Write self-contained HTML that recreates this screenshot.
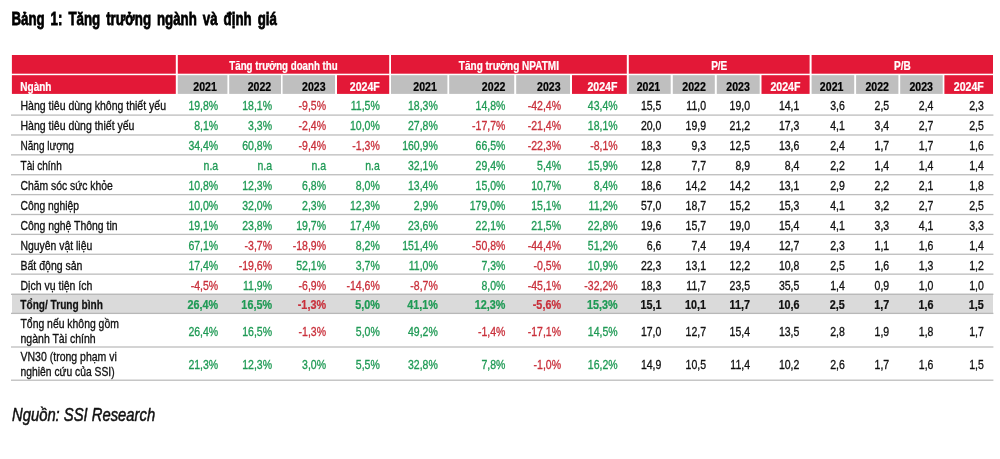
<!DOCTYPE html>
<html lang="vi"><head><meta charset="utf-8"><title>Bảng 1</title>
<style>
html,body{margin:0;padding:0;background:#fff;}
body{width:1000px;height:459px;overflow:hidden;}
svg{display:block;font-family:"Liberation Sans", Arial, Helvetica, sans-serif;will-change:transform;filter:blur(0.4px);}
text{white-space:pre;}
</style></head><body>
<svg width="1000" height="459" viewBox="0 0 1000 459">
<rect width="1000" height="459" fill="#fff"/>
<text transform="translate(11.40,25.30) scale(0.7,1)" text-anchor="start" fill="#000" stroke="#000" stroke-width="0.8" font-size="19" font-weight="bold" font-style="normal" word-spacing="3.3">Bảng 1: Tăng trưởng ngành và định giá</text>
<rect x="11.90" y="55.00" width="163.90" height="18.70" fill="#e31837"/>
<rect x="11.90" y="75.20" width="163.90" height="18.70" fill="#e31837"/>
<rect x="177.80" y="55.00" width="211.40" height="18.70" fill="#e31837"/>
<text transform="translate(283.50,70.30) scale(0.747,1)" text-anchor="middle" fill="#fff" stroke="#fff" stroke-width="0.25" font-size="13" font-weight="bold" font-style="normal">Tăng trưởng doanh thu</text>
<rect x="391.00" y="55.00" width="235.80" height="18.70" fill="#e31837"/>
<text transform="translate(508.90,70.30) scale(0.77,1)" text-anchor="middle" fill="#fff" stroke="#fff" stroke-width="0.25" font-size="13" font-weight="bold" font-style="normal">Tăng trưởng NPATMI</text>
<rect x="628.80" y="55.00" width="180.80" height="18.70" fill="#e31837"/>
<text transform="translate(719.20,70.30) scale(0.77,1)" text-anchor="middle" fill="#fff" stroke="#fff" stroke-width="0.25" font-size="13" font-weight="bold" font-style="normal">P/E</text>
<rect x="811.60" y="55.00" width="181.40" height="18.70" fill="#e31837"/>
<text transform="translate(902.30,70.30) scale(0.77,1)" text-anchor="middle" fill="#fff" stroke="#fff" stroke-width="0.25" font-size="13" font-weight="bold" font-style="normal">P/B</text>
<text transform="translate(20.30,90.80) scale(0.77,1)" text-anchor="start" fill="#fff" stroke="#fff" stroke-width="0.25" font-size="13" font-weight="bold" font-style="normal">Ngành</text>
<rect x="177.80" y="75.20" width="49.60" height="18.70" fill="#bfbfbf"/>
<text transform="translate(216.80,90.80) scale(0.79,1)" text-anchor="end" fill="#000" stroke="#000" stroke-width="0.25" font-size="13.4" font-weight="bold" font-style="normal">2021</text>
<rect x="229.20" y="75.20" width="51.80" height="18.70" fill="#bfbfbf"/>
<text transform="translate(271.20,90.80) scale(0.79,1)" text-anchor="end" fill="#000" stroke="#000" stroke-width="0.25" font-size="13.4" font-weight="bold" font-style="normal">2022</text>
<rect x="282.60" y="75.20" width="52.40" height="18.70" fill="#bfbfbf"/>
<text transform="translate(325.60,90.80) scale(0.79,1)" text-anchor="end" fill="#000" stroke="#000" stroke-width="0.25" font-size="13.4" font-weight="bold" font-style="normal">2023</text>
<rect x="337.00" y="75.20" width="52.20" height="18.70" fill="#e31837"/>
<text transform="translate(379.80,90.80) scale(0.79,1)" text-anchor="end" fill="#fff" stroke="#fff" stroke-width="0.25" font-size="13.4" font-weight="bold" font-style="normal">2024F</text>
<rect x="391.00" y="75.20" width="56.40" height="18.70" fill="#bfbfbf"/>
<text transform="translate(436.80,90.80) scale(0.79,1)" text-anchor="end" fill="#000" stroke="#000" stroke-width="0.25" font-size="13.4" font-weight="bold" font-style="normal">2021</text>
<rect x="449.20" y="75.20" width="65.00" height="18.70" fill="#bfbfbf"/>
<text transform="translate(505.40,90.80) scale(0.79,1)" text-anchor="end" fill="#000" stroke="#000" stroke-width="0.25" font-size="13.4" font-weight="bold" font-style="normal">2022</text>
<rect x="516.20" y="75.20" width="53.80" height="18.70" fill="#bfbfbf"/>
<text transform="translate(560.60,90.80) scale(0.79,1)" text-anchor="end" fill="#000" stroke="#000" stroke-width="0.25" font-size="13.4" font-weight="bold" font-style="normal">2023</text>
<rect x="572.00" y="75.20" width="54.80" height="18.70" fill="#e31837"/>
<text transform="translate(617.40,90.80) scale(0.79,1)" text-anchor="end" fill="#fff" stroke="#fff" stroke-width="0.25" font-size="13.4" font-weight="bold" font-style="normal">2024F</text>
<rect x="628.80" y="75.20" width="41.90" height="18.70" fill="#bfbfbf"/>
<text transform="translate(660.20,90.80) scale(0.79,1)" text-anchor="end" fill="#000" stroke="#000" stroke-width="0.25" font-size="13.4" font-weight="bold" font-style="normal">2021</text>
<rect x="672.80" y="75.20" width="42.00" height="18.70" fill="#bfbfbf"/>
<text transform="translate(705.80,90.80) scale(0.79,1)" text-anchor="end" fill="#000" stroke="#000" stroke-width="0.25" font-size="13.4" font-weight="bold" font-style="normal">2022</text>
<rect x="716.80" y="75.20" width="42.90" height="18.70" fill="#bfbfbf"/>
<text transform="translate(749.80,90.80) scale(0.79,1)" text-anchor="end" fill="#000" stroke="#000" stroke-width="0.25" font-size="13.4" font-weight="bold" font-style="normal">2023</text>
<rect x="761.50" y="75.20" width="48.10" height="18.70" fill="#e31837"/>
<text transform="translate(800.40,90.80) scale(0.79,1)" text-anchor="end" fill="#fff" stroke="#fff" stroke-width="0.25" font-size="13.4" font-weight="bold" font-style="normal">2024F</text>
<rect x="811.60" y="75.20" width="42.60" height="18.70" fill="#bfbfbf"/>
<text transform="translate(843.40,90.80) scale(0.79,1)" text-anchor="end" fill="#000" stroke="#000" stroke-width="0.25" font-size="13.4" font-weight="bold" font-style="normal">2021</text>
<rect x="856.10" y="75.20" width="42.30" height="18.70" fill="#bfbfbf"/>
<text transform="translate(889.00,90.80) scale(0.79,1)" text-anchor="end" fill="#000" stroke="#000" stroke-width="0.25" font-size="13.4" font-weight="bold" font-style="normal">2022</text>
<rect x="900.20" y="75.20" width="42.50" height="18.70" fill="#bfbfbf"/>
<text transform="translate(933.00,90.80) scale(0.79,1)" text-anchor="end" fill="#000" stroke="#000" stroke-width="0.25" font-size="13.4" font-weight="bold" font-style="normal">2023</text>
<rect x="944.40" y="75.20" width="48.60" height="18.70" fill="#e31837"/>
<text transform="translate(983.80,90.80) scale(0.79,1)" text-anchor="end" fill="#fff" stroke="#fff" stroke-width="0.25" font-size="13.4" font-weight="bold" font-style="normal">2024F</text>
<text transform="translate(20.50,110.00) scale(0.835,1)" text-anchor="start" fill="#111" stroke="#111" stroke-width="0.32" font-size="12.6" font-weight="normal" font-style="normal">Hàng tiêu dùng không thiết yếu</text>
<text transform="translate(218.20,110.00) scale(0.835,1)" text-anchor="end" fill="#1f9a55" stroke="#1f9a55" stroke-width="0.32" font-size="12.6" font-weight="normal" font-style="normal">19,8%</text>
<text transform="translate(272.00,110.00) scale(0.835,1)" text-anchor="end" fill="#1f9a55" stroke="#1f9a55" stroke-width="0.32" font-size="12.6" font-weight="normal" font-style="normal">18,1%</text>
<text transform="translate(326.00,110.00) scale(0.835,1)" text-anchor="end" fill="#c9303b" stroke="#c9303b" stroke-width="0.32" font-size="12.6" font-weight="normal" font-style="normal">-9,5%</text>
<text transform="translate(379.80,110.00) scale(0.835,1)" text-anchor="end" fill="#1f9a55" stroke="#1f9a55" stroke-width="0.32" font-size="12.6" font-weight="normal" font-style="normal">11,5%</text>
<text transform="translate(437.80,110.00) scale(0.835,1)" text-anchor="end" fill="#1f9a55" stroke="#1f9a55" stroke-width="0.32" font-size="12.6" font-weight="normal" font-style="normal">18,3%</text>
<text transform="translate(505.40,110.00) scale(0.835,1)" text-anchor="end" fill="#1f9a55" stroke="#1f9a55" stroke-width="0.32" font-size="12.6" font-weight="normal" font-style="normal">14,8%</text>
<text transform="translate(561.00,110.00) scale(0.835,1)" text-anchor="end" fill="#c9303b" stroke="#c9303b" stroke-width="0.32" font-size="12.6" font-weight="normal" font-style="normal">-42,4%</text>
<text transform="translate(617.60,110.00) scale(0.835,1)" text-anchor="end" fill="#1f9a55" stroke="#1f9a55" stroke-width="0.32" font-size="12.6" font-weight="normal" font-style="normal">43,4%</text>
<text transform="translate(661.40,110.00) scale(0.835,1)" text-anchor="end" fill="#111" stroke="#111" stroke-width="0.32" font-size="12.6" font-weight="normal" font-style="normal">15,5</text>
<text transform="translate(706.00,110.00) scale(0.835,1)" text-anchor="end" fill="#111" stroke="#111" stroke-width="0.32" font-size="12.6" font-weight="normal" font-style="normal">11,0</text>
<text transform="translate(750.00,110.00) scale(0.835,1)" text-anchor="end" fill="#111" stroke="#111" stroke-width="0.32" font-size="12.6" font-weight="normal" font-style="normal">19,0</text>
<text transform="translate(799.40,110.00) scale(0.835,1)" text-anchor="end" fill="#111" stroke="#111" stroke-width="0.32" font-size="12.6" font-weight="normal" font-style="normal">14,1</text>
<text transform="translate(844.80,110.00) scale(0.835,1)" text-anchor="end" fill="#111" stroke="#111" stroke-width="0.32" font-size="12.6" font-weight="normal" font-style="normal">3,6</text>
<text transform="translate(889.20,110.00) scale(0.835,1)" text-anchor="end" fill="#111" stroke="#111" stroke-width="0.32" font-size="12.6" font-weight="normal" font-style="normal">2,5</text>
<text transform="translate(933.40,110.00) scale(0.835,1)" text-anchor="end" fill="#111" stroke="#111" stroke-width="0.32" font-size="12.6" font-weight="normal" font-style="normal">2,4</text>
<text transform="translate(983.80,110.00) scale(0.835,1)" text-anchor="end" fill="#111" stroke="#111" stroke-width="0.32" font-size="12.6" font-weight="normal" font-style="normal">2,3</text>
<rect x="11" y="114.45" width="982.4" height="1.3" fill="#bdbdbd"/>
<text transform="translate(20.50,129.95) scale(0.835,1)" text-anchor="start" fill="#111" stroke="#111" stroke-width="0.32" font-size="12.6" font-weight="normal" font-style="normal">Hàng tiêu dùng thiết yếu</text>
<text transform="translate(218.20,129.95) scale(0.835,1)" text-anchor="end" fill="#1f9a55" stroke="#1f9a55" stroke-width="0.32" font-size="12.6" font-weight="normal" font-style="normal">8,1%</text>
<text transform="translate(272.00,129.95) scale(0.835,1)" text-anchor="end" fill="#1f9a55" stroke="#1f9a55" stroke-width="0.32" font-size="12.6" font-weight="normal" font-style="normal">3,3%</text>
<text transform="translate(326.00,129.95) scale(0.835,1)" text-anchor="end" fill="#c9303b" stroke="#c9303b" stroke-width="0.32" font-size="12.6" font-weight="normal" font-style="normal">-2,4%</text>
<text transform="translate(379.80,129.95) scale(0.835,1)" text-anchor="end" fill="#1f9a55" stroke="#1f9a55" stroke-width="0.32" font-size="12.6" font-weight="normal" font-style="normal">10,0%</text>
<text transform="translate(437.80,129.95) scale(0.835,1)" text-anchor="end" fill="#1f9a55" stroke="#1f9a55" stroke-width="0.32" font-size="12.6" font-weight="normal" font-style="normal">27,8%</text>
<text transform="translate(505.40,129.95) scale(0.835,1)" text-anchor="end" fill="#c9303b" stroke="#c9303b" stroke-width="0.32" font-size="12.6" font-weight="normal" font-style="normal">-17,7%</text>
<text transform="translate(561.00,129.95) scale(0.835,1)" text-anchor="end" fill="#c9303b" stroke="#c9303b" stroke-width="0.32" font-size="12.6" font-weight="normal" font-style="normal">-21,4%</text>
<text transform="translate(617.60,129.95) scale(0.835,1)" text-anchor="end" fill="#1f9a55" stroke="#1f9a55" stroke-width="0.32" font-size="12.6" font-weight="normal" font-style="normal">18,1%</text>
<text transform="translate(661.40,129.95) scale(0.835,1)" text-anchor="end" fill="#111" stroke="#111" stroke-width="0.32" font-size="12.6" font-weight="normal" font-style="normal">20,0</text>
<text transform="translate(706.00,129.95) scale(0.835,1)" text-anchor="end" fill="#111" stroke="#111" stroke-width="0.32" font-size="12.6" font-weight="normal" font-style="normal">19,9</text>
<text transform="translate(750.00,129.95) scale(0.835,1)" text-anchor="end" fill="#111" stroke="#111" stroke-width="0.32" font-size="12.6" font-weight="normal" font-style="normal">21,2</text>
<text transform="translate(799.40,129.95) scale(0.835,1)" text-anchor="end" fill="#111" stroke="#111" stroke-width="0.32" font-size="12.6" font-weight="normal" font-style="normal">17,3</text>
<text transform="translate(844.80,129.95) scale(0.835,1)" text-anchor="end" fill="#111" stroke="#111" stroke-width="0.32" font-size="12.6" font-weight="normal" font-style="normal">4,1</text>
<text transform="translate(889.20,129.95) scale(0.835,1)" text-anchor="end" fill="#111" stroke="#111" stroke-width="0.32" font-size="12.6" font-weight="normal" font-style="normal">3,4</text>
<text transform="translate(933.40,129.95) scale(0.835,1)" text-anchor="end" fill="#111" stroke="#111" stroke-width="0.32" font-size="12.6" font-weight="normal" font-style="normal">2,7</text>
<text transform="translate(983.80,129.95) scale(0.835,1)" text-anchor="end" fill="#111" stroke="#111" stroke-width="0.32" font-size="12.6" font-weight="normal" font-style="normal">2,5</text>
<rect x="11" y="134.33" width="982.4" height="1.3" fill="#bdbdbd"/>
<text transform="translate(20.50,149.90) scale(0.7974,1)" text-anchor="start" fill="#111" stroke="#111" stroke-width="0.32" font-size="12.6" font-weight="normal" font-style="normal">Năng lượng</text>
<text transform="translate(218.20,149.90) scale(0.835,1)" text-anchor="end" fill="#1f9a55" stroke="#1f9a55" stroke-width="0.32" font-size="12.6" font-weight="normal" font-style="normal">34,4%</text>
<text transform="translate(272.00,149.90) scale(0.835,1)" text-anchor="end" fill="#1f9a55" stroke="#1f9a55" stroke-width="0.32" font-size="12.6" font-weight="normal" font-style="normal">60,8%</text>
<text transform="translate(326.00,149.90) scale(0.835,1)" text-anchor="end" fill="#c9303b" stroke="#c9303b" stroke-width="0.32" font-size="12.6" font-weight="normal" font-style="normal">-9,4%</text>
<text transform="translate(379.80,149.90) scale(0.835,1)" text-anchor="end" fill="#c9303b" stroke="#c9303b" stroke-width="0.32" font-size="12.6" font-weight="normal" font-style="normal">-1,3%</text>
<text transform="translate(437.80,149.90) scale(0.835,1)" text-anchor="end" fill="#1f9a55" stroke="#1f9a55" stroke-width="0.32" font-size="12.6" font-weight="normal" font-style="normal">160,9%</text>
<text transform="translate(505.40,149.90) scale(0.835,1)" text-anchor="end" fill="#1f9a55" stroke="#1f9a55" stroke-width="0.32" font-size="12.6" font-weight="normal" font-style="normal">66,5%</text>
<text transform="translate(561.00,149.90) scale(0.835,1)" text-anchor="end" fill="#c9303b" stroke="#c9303b" stroke-width="0.32" font-size="12.6" font-weight="normal" font-style="normal">-22,3%</text>
<text transform="translate(617.60,149.90) scale(0.835,1)" text-anchor="end" fill="#c9303b" stroke="#c9303b" stroke-width="0.32" font-size="12.6" font-weight="normal" font-style="normal">-8,1%</text>
<text transform="translate(661.40,149.90) scale(0.835,1)" text-anchor="end" fill="#111" stroke="#111" stroke-width="0.32" font-size="12.6" font-weight="normal" font-style="normal">18,3</text>
<text transform="translate(706.00,149.90) scale(0.835,1)" text-anchor="end" fill="#111" stroke="#111" stroke-width="0.32" font-size="12.6" font-weight="normal" font-style="normal">9,3</text>
<text transform="translate(750.00,149.90) scale(0.835,1)" text-anchor="end" fill="#111" stroke="#111" stroke-width="0.32" font-size="12.6" font-weight="normal" font-style="normal">12,5</text>
<text transform="translate(799.40,149.90) scale(0.835,1)" text-anchor="end" fill="#111" stroke="#111" stroke-width="0.32" font-size="12.6" font-weight="normal" font-style="normal">13,6</text>
<text transform="translate(844.80,149.90) scale(0.835,1)" text-anchor="end" fill="#111" stroke="#111" stroke-width="0.32" font-size="12.6" font-weight="normal" font-style="normal">2,4</text>
<text transform="translate(889.20,149.90) scale(0.835,1)" text-anchor="end" fill="#111" stroke="#111" stroke-width="0.32" font-size="12.6" font-weight="normal" font-style="normal">1,7</text>
<text transform="translate(933.40,149.90) scale(0.835,1)" text-anchor="end" fill="#111" stroke="#111" stroke-width="0.32" font-size="12.6" font-weight="normal" font-style="normal">1,7</text>
<text transform="translate(983.80,149.90) scale(0.835,1)" text-anchor="end" fill="#111" stroke="#111" stroke-width="0.32" font-size="12.6" font-weight="normal" font-style="normal">1,6</text>
<rect x="11" y="154.21" width="982.4" height="1.3" fill="#bdbdbd"/>
<text transform="translate(20.50,169.85) scale(0.7974,1)" text-anchor="start" fill="#111" stroke="#111" stroke-width="0.32" font-size="12.6" font-weight="normal" font-style="normal">Tài chính</text>
<text transform="translate(218.20,169.85) scale(0.835,1)" text-anchor="end" fill="#1f9a55" stroke="#1f9a55" stroke-width="0.32" font-size="12.6" font-weight="normal" font-style="normal">n.a</text>
<text transform="translate(272.00,169.85) scale(0.835,1)" text-anchor="end" fill="#1f9a55" stroke="#1f9a55" stroke-width="0.32" font-size="12.6" font-weight="normal" font-style="normal">n.a</text>
<text transform="translate(326.00,169.85) scale(0.835,1)" text-anchor="end" fill="#1f9a55" stroke="#1f9a55" stroke-width="0.32" font-size="12.6" font-weight="normal" font-style="normal">n.a</text>
<text transform="translate(379.80,169.85) scale(0.835,1)" text-anchor="end" fill="#1f9a55" stroke="#1f9a55" stroke-width="0.32" font-size="12.6" font-weight="normal" font-style="normal">n.a</text>
<text transform="translate(437.80,169.85) scale(0.835,1)" text-anchor="end" fill="#1f9a55" stroke="#1f9a55" stroke-width="0.32" font-size="12.6" font-weight="normal" font-style="normal">32,1%</text>
<text transform="translate(505.40,169.85) scale(0.835,1)" text-anchor="end" fill="#1f9a55" stroke="#1f9a55" stroke-width="0.32" font-size="12.6" font-weight="normal" font-style="normal">29,4%</text>
<text transform="translate(561.00,169.85) scale(0.835,1)" text-anchor="end" fill="#1f9a55" stroke="#1f9a55" stroke-width="0.32" font-size="12.6" font-weight="normal" font-style="normal">5,4%</text>
<text transform="translate(617.60,169.85) scale(0.835,1)" text-anchor="end" fill="#1f9a55" stroke="#1f9a55" stroke-width="0.32" font-size="12.6" font-weight="normal" font-style="normal">15,9%</text>
<text transform="translate(661.40,169.85) scale(0.835,1)" text-anchor="end" fill="#111" stroke="#111" stroke-width="0.32" font-size="12.6" font-weight="normal" font-style="normal">12,8</text>
<text transform="translate(706.00,169.85) scale(0.835,1)" text-anchor="end" fill="#111" stroke="#111" stroke-width="0.32" font-size="12.6" font-weight="normal" font-style="normal">7,7</text>
<text transform="translate(750.00,169.85) scale(0.835,1)" text-anchor="end" fill="#111" stroke="#111" stroke-width="0.32" font-size="12.6" font-weight="normal" font-style="normal">8,9</text>
<text transform="translate(799.40,169.85) scale(0.835,1)" text-anchor="end" fill="#111" stroke="#111" stroke-width="0.32" font-size="12.6" font-weight="normal" font-style="normal">8,4</text>
<text transform="translate(844.80,169.85) scale(0.835,1)" text-anchor="end" fill="#111" stroke="#111" stroke-width="0.32" font-size="12.6" font-weight="normal" font-style="normal">2,2</text>
<text transform="translate(889.20,169.85) scale(0.835,1)" text-anchor="end" fill="#111" stroke="#111" stroke-width="0.32" font-size="12.6" font-weight="normal" font-style="normal">1,4</text>
<text transform="translate(933.40,169.85) scale(0.835,1)" text-anchor="end" fill="#111" stroke="#111" stroke-width="0.32" font-size="12.6" font-weight="normal" font-style="normal">1,4</text>
<text transform="translate(983.80,169.85) scale(0.835,1)" text-anchor="end" fill="#111" stroke="#111" stroke-width="0.32" font-size="12.6" font-weight="normal" font-style="normal">1,4</text>
<rect x="11" y="174.09" width="982.4" height="1.3" fill="#bdbdbd"/>
<text transform="translate(20.50,189.80) scale(0.8241,1)" text-anchor="start" fill="#111" stroke="#111" stroke-width="0.32" font-size="12.6" font-weight="normal" font-style="normal">Chăm sóc sức khỏe</text>
<text transform="translate(218.20,189.80) scale(0.835,1)" text-anchor="end" fill="#1f9a55" stroke="#1f9a55" stroke-width="0.32" font-size="12.6" font-weight="normal" font-style="normal">10,8%</text>
<text transform="translate(272.00,189.80) scale(0.835,1)" text-anchor="end" fill="#1f9a55" stroke="#1f9a55" stroke-width="0.32" font-size="12.6" font-weight="normal" font-style="normal">12,3%</text>
<text transform="translate(326.00,189.80) scale(0.835,1)" text-anchor="end" fill="#1f9a55" stroke="#1f9a55" stroke-width="0.32" font-size="12.6" font-weight="normal" font-style="normal">6,8%</text>
<text transform="translate(379.80,189.80) scale(0.835,1)" text-anchor="end" fill="#1f9a55" stroke="#1f9a55" stroke-width="0.32" font-size="12.6" font-weight="normal" font-style="normal">8,0%</text>
<text transform="translate(437.80,189.80) scale(0.835,1)" text-anchor="end" fill="#1f9a55" stroke="#1f9a55" stroke-width="0.32" font-size="12.6" font-weight="normal" font-style="normal">13,4%</text>
<text transform="translate(505.40,189.80) scale(0.835,1)" text-anchor="end" fill="#1f9a55" stroke="#1f9a55" stroke-width="0.32" font-size="12.6" font-weight="normal" font-style="normal">15,0%</text>
<text transform="translate(561.00,189.80) scale(0.835,1)" text-anchor="end" fill="#1f9a55" stroke="#1f9a55" stroke-width="0.32" font-size="12.6" font-weight="normal" font-style="normal">10,7%</text>
<text transform="translate(617.60,189.80) scale(0.835,1)" text-anchor="end" fill="#1f9a55" stroke="#1f9a55" stroke-width="0.32" font-size="12.6" font-weight="normal" font-style="normal">8,4%</text>
<text transform="translate(661.40,189.80) scale(0.835,1)" text-anchor="end" fill="#111" stroke="#111" stroke-width="0.32" font-size="12.6" font-weight="normal" font-style="normal">18,6</text>
<text transform="translate(706.00,189.80) scale(0.835,1)" text-anchor="end" fill="#111" stroke="#111" stroke-width="0.32" font-size="12.6" font-weight="normal" font-style="normal">14,2</text>
<text transform="translate(750.00,189.80) scale(0.835,1)" text-anchor="end" fill="#111" stroke="#111" stroke-width="0.32" font-size="12.6" font-weight="normal" font-style="normal">14,2</text>
<text transform="translate(799.40,189.80) scale(0.835,1)" text-anchor="end" fill="#111" stroke="#111" stroke-width="0.32" font-size="12.6" font-weight="normal" font-style="normal">13,1</text>
<text transform="translate(844.80,189.80) scale(0.835,1)" text-anchor="end" fill="#111" stroke="#111" stroke-width="0.32" font-size="12.6" font-weight="normal" font-style="normal">2,9</text>
<text transform="translate(889.20,189.80) scale(0.835,1)" text-anchor="end" fill="#111" stroke="#111" stroke-width="0.32" font-size="12.6" font-weight="normal" font-style="normal">2,2</text>
<text transform="translate(933.40,189.80) scale(0.835,1)" text-anchor="end" fill="#111" stroke="#111" stroke-width="0.32" font-size="12.6" font-weight="normal" font-style="normal">2,1</text>
<text transform="translate(983.80,189.80) scale(0.835,1)" text-anchor="end" fill="#111" stroke="#111" stroke-width="0.32" font-size="12.6" font-weight="normal" font-style="normal">1,8</text>
<rect x="11" y="193.97" width="982.4" height="1.3" fill="#bdbdbd"/>
<text transform="translate(20.50,209.75) scale(0.8183,1)" text-anchor="start" fill="#111" stroke="#111" stroke-width="0.32" font-size="12.6" font-weight="normal" font-style="normal">Công nghiệp</text>
<text transform="translate(218.20,209.75) scale(0.835,1)" text-anchor="end" fill="#1f9a55" stroke="#1f9a55" stroke-width="0.32" font-size="12.6" font-weight="normal" font-style="normal">10,0%</text>
<text transform="translate(272.00,209.75) scale(0.835,1)" text-anchor="end" fill="#1f9a55" stroke="#1f9a55" stroke-width="0.32" font-size="12.6" font-weight="normal" font-style="normal">32,0%</text>
<text transform="translate(326.00,209.75) scale(0.835,1)" text-anchor="end" fill="#1f9a55" stroke="#1f9a55" stroke-width="0.32" font-size="12.6" font-weight="normal" font-style="normal">2,3%</text>
<text transform="translate(379.80,209.75) scale(0.835,1)" text-anchor="end" fill="#1f9a55" stroke="#1f9a55" stroke-width="0.32" font-size="12.6" font-weight="normal" font-style="normal">12,3%</text>
<text transform="translate(437.80,209.75) scale(0.835,1)" text-anchor="end" fill="#1f9a55" stroke="#1f9a55" stroke-width="0.32" font-size="12.6" font-weight="normal" font-style="normal">2,9%</text>
<text transform="translate(505.40,209.75) scale(0.835,1)" text-anchor="end" fill="#1f9a55" stroke="#1f9a55" stroke-width="0.32" font-size="12.6" font-weight="normal" font-style="normal">179,0%</text>
<text transform="translate(561.00,209.75) scale(0.835,1)" text-anchor="end" fill="#1f9a55" stroke="#1f9a55" stroke-width="0.32" font-size="12.6" font-weight="normal" font-style="normal">15,1%</text>
<text transform="translate(617.60,209.75) scale(0.835,1)" text-anchor="end" fill="#1f9a55" stroke="#1f9a55" stroke-width="0.32" font-size="12.6" font-weight="normal" font-style="normal">11,2%</text>
<text transform="translate(661.40,209.75) scale(0.835,1)" text-anchor="end" fill="#111" stroke="#111" stroke-width="0.32" font-size="12.6" font-weight="normal" font-style="normal">57,0</text>
<text transform="translate(706.00,209.75) scale(0.835,1)" text-anchor="end" fill="#111" stroke="#111" stroke-width="0.32" font-size="12.6" font-weight="normal" font-style="normal">18,7</text>
<text transform="translate(750.00,209.75) scale(0.835,1)" text-anchor="end" fill="#111" stroke="#111" stroke-width="0.32" font-size="12.6" font-weight="normal" font-style="normal">15,2</text>
<text transform="translate(799.40,209.75) scale(0.835,1)" text-anchor="end" fill="#111" stroke="#111" stroke-width="0.32" font-size="12.6" font-weight="normal" font-style="normal">15,3</text>
<text transform="translate(844.80,209.75) scale(0.835,1)" text-anchor="end" fill="#111" stroke="#111" stroke-width="0.32" font-size="12.6" font-weight="normal" font-style="normal">4,1</text>
<text transform="translate(889.20,209.75) scale(0.835,1)" text-anchor="end" fill="#111" stroke="#111" stroke-width="0.32" font-size="12.6" font-weight="normal" font-style="normal">3,2</text>
<text transform="translate(933.40,209.75) scale(0.835,1)" text-anchor="end" fill="#111" stroke="#111" stroke-width="0.32" font-size="12.6" font-weight="normal" font-style="normal">2,7</text>
<text transform="translate(983.80,209.75) scale(0.835,1)" text-anchor="end" fill="#111" stroke="#111" stroke-width="0.32" font-size="12.6" font-weight="normal" font-style="normal">2,5</text>
<rect x="11" y="213.85" width="982.4" height="1.3" fill="#bdbdbd"/>
<text transform="translate(20.50,229.70) scale(0.8266,1)" text-anchor="start" fill="#111" stroke="#111" stroke-width="0.32" font-size="12.6" font-weight="normal" font-style="normal">Công nghệ Thông tin</text>
<text transform="translate(218.20,229.70) scale(0.835,1)" text-anchor="end" fill="#1f9a55" stroke="#1f9a55" stroke-width="0.32" font-size="12.6" font-weight="normal" font-style="normal">19,1%</text>
<text transform="translate(272.00,229.70) scale(0.835,1)" text-anchor="end" fill="#1f9a55" stroke="#1f9a55" stroke-width="0.32" font-size="12.6" font-weight="normal" font-style="normal">23,8%</text>
<text transform="translate(326.00,229.70) scale(0.835,1)" text-anchor="end" fill="#1f9a55" stroke="#1f9a55" stroke-width="0.32" font-size="12.6" font-weight="normal" font-style="normal">19,7%</text>
<text transform="translate(379.80,229.70) scale(0.835,1)" text-anchor="end" fill="#1f9a55" stroke="#1f9a55" stroke-width="0.32" font-size="12.6" font-weight="normal" font-style="normal">17,4%</text>
<text transform="translate(437.80,229.70) scale(0.835,1)" text-anchor="end" fill="#1f9a55" stroke="#1f9a55" stroke-width="0.32" font-size="12.6" font-weight="normal" font-style="normal">23,6%</text>
<text transform="translate(505.40,229.70) scale(0.835,1)" text-anchor="end" fill="#1f9a55" stroke="#1f9a55" stroke-width="0.32" font-size="12.6" font-weight="normal" font-style="normal">22,1%</text>
<text transform="translate(561.00,229.70) scale(0.835,1)" text-anchor="end" fill="#1f9a55" stroke="#1f9a55" stroke-width="0.32" font-size="12.6" font-weight="normal" font-style="normal">21,5%</text>
<text transform="translate(617.60,229.70) scale(0.835,1)" text-anchor="end" fill="#1f9a55" stroke="#1f9a55" stroke-width="0.32" font-size="12.6" font-weight="normal" font-style="normal">22,8%</text>
<text transform="translate(661.40,229.70) scale(0.835,1)" text-anchor="end" fill="#111" stroke="#111" stroke-width="0.32" font-size="12.6" font-weight="normal" font-style="normal">19,6</text>
<text transform="translate(706.00,229.70) scale(0.835,1)" text-anchor="end" fill="#111" stroke="#111" stroke-width="0.32" font-size="12.6" font-weight="normal" font-style="normal">15,7</text>
<text transform="translate(750.00,229.70) scale(0.835,1)" text-anchor="end" fill="#111" stroke="#111" stroke-width="0.32" font-size="12.6" font-weight="normal" font-style="normal">19,0</text>
<text transform="translate(799.40,229.70) scale(0.835,1)" text-anchor="end" fill="#111" stroke="#111" stroke-width="0.32" font-size="12.6" font-weight="normal" font-style="normal">15,4</text>
<text transform="translate(844.80,229.70) scale(0.835,1)" text-anchor="end" fill="#111" stroke="#111" stroke-width="0.32" font-size="12.6" font-weight="normal" font-style="normal">4,1</text>
<text transform="translate(889.20,229.70) scale(0.835,1)" text-anchor="end" fill="#111" stroke="#111" stroke-width="0.32" font-size="12.6" font-weight="normal" font-style="normal">3,3</text>
<text transform="translate(933.40,229.70) scale(0.835,1)" text-anchor="end" fill="#111" stroke="#111" stroke-width="0.32" font-size="12.6" font-weight="normal" font-style="normal">4,1</text>
<text transform="translate(983.80,229.70) scale(0.835,1)" text-anchor="end" fill="#111" stroke="#111" stroke-width="0.32" font-size="12.6" font-weight="normal" font-style="normal">3,3</text>
<rect x="11" y="233.73" width="982.4" height="1.3" fill="#bdbdbd"/>
<text transform="translate(20.50,249.65) scale(0.8266,1)" text-anchor="start" fill="#111" stroke="#111" stroke-width="0.32" font-size="12.6" font-weight="normal" font-style="normal">Nguyên vật liệu</text>
<text transform="translate(218.20,249.65) scale(0.835,1)" text-anchor="end" fill="#1f9a55" stroke="#1f9a55" stroke-width="0.32" font-size="12.6" font-weight="normal" font-style="normal">67,1%</text>
<text transform="translate(272.00,249.65) scale(0.835,1)" text-anchor="end" fill="#c9303b" stroke="#c9303b" stroke-width="0.32" font-size="12.6" font-weight="normal" font-style="normal">-3,7%</text>
<text transform="translate(326.00,249.65) scale(0.835,1)" text-anchor="end" fill="#c9303b" stroke="#c9303b" stroke-width="0.32" font-size="12.6" font-weight="normal" font-style="normal">-18,9%</text>
<text transform="translate(379.80,249.65) scale(0.835,1)" text-anchor="end" fill="#1f9a55" stroke="#1f9a55" stroke-width="0.32" font-size="12.6" font-weight="normal" font-style="normal">8,2%</text>
<text transform="translate(437.80,249.65) scale(0.835,1)" text-anchor="end" fill="#1f9a55" stroke="#1f9a55" stroke-width="0.32" font-size="12.6" font-weight="normal" font-style="normal">151,4%</text>
<text transform="translate(505.40,249.65) scale(0.835,1)" text-anchor="end" fill="#c9303b" stroke="#c9303b" stroke-width="0.32" font-size="12.6" font-weight="normal" font-style="normal">-50,8%</text>
<text transform="translate(561.00,249.65) scale(0.835,1)" text-anchor="end" fill="#c9303b" stroke="#c9303b" stroke-width="0.32" font-size="12.6" font-weight="normal" font-style="normal">-44,4%</text>
<text transform="translate(617.60,249.65) scale(0.835,1)" text-anchor="end" fill="#1f9a55" stroke="#1f9a55" stroke-width="0.32" font-size="12.6" font-weight="normal" font-style="normal">51,2%</text>
<text transform="translate(661.40,249.65) scale(0.835,1)" text-anchor="end" fill="#111" stroke="#111" stroke-width="0.32" font-size="12.6" font-weight="normal" font-style="normal">6,6</text>
<text transform="translate(706.00,249.65) scale(0.835,1)" text-anchor="end" fill="#111" stroke="#111" stroke-width="0.32" font-size="12.6" font-weight="normal" font-style="normal">7,4</text>
<text transform="translate(750.00,249.65) scale(0.835,1)" text-anchor="end" fill="#111" stroke="#111" stroke-width="0.32" font-size="12.6" font-weight="normal" font-style="normal">19,4</text>
<text transform="translate(799.40,249.65) scale(0.835,1)" text-anchor="end" fill="#111" stroke="#111" stroke-width="0.32" font-size="12.6" font-weight="normal" font-style="normal">12,7</text>
<text transform="translate(844.80,249.65) scale(0.835,1)" text-anchor="end" fill="#111" stroke="#111" stroke-width="0.32" font-size="12.6" font-weight="normal" font-style="normal">2,3</text>
<text transform="translate(889.20,249.65) scale(0.835,1)" text-anchor="end" fill="#111" stroke="#111" stroke-width="0.32" font-size="12.6" font-weight="normal" font-style="normal">1,1</text>
<text transform="translate(933.40,249.65) scale(0.835,1)" text-anchor="end" fill="#111" stroke="#111" stroke-width="0.32" font-size="12.6" font-weight="normal" font-style="normal">1,6</text>
<text transform="translate(983.80,249.65) scale(0.835,1)" text-anchor="end" fill="#111" stroke="#111" stroke-width="0.32" font-size="12.6" font-weight="normal" font-style="normal">1,4</text>
<rect x="11" y="253.61" width="982.4" height="1.3" fill="#bdbdbd"/>
<text transform="translate(20.50,269.60) scale(0.835,1)" text-anchor="start" fill="#111" stroke="#111" stroke-width="0.32" font-size="12.6" font-weight="normal" font-style="normal">Bất động sản</text>
<text transform="translate(218.20,269.60) scale(0.835,1)" text-anchor="end" fill="#1f9a55" stroke="#1f9a55" stroke-width="0.32" font-size="12.6" font-weight="normal" font-style="normal">17,4%</text>
<text transform="translate(272.00,269.60) scale(0.835,1)" text-anchor="end" fill="#c9303b" stroke="#c9303b" stroke-width="0.32" font-size="12.6" font-weight="normal" font-style="normal">-19,6%</text>
<text transform="translate(326.00,269.60) scale(0.835,1)" text-anchor="end" fill="#1f9a55" stroke="#1f9a55" stroke-width="0.32" font-size="12.6" font-weight="normal" font-style="normal">52,1%</text>
<text transform="translate(379.80,269.60) scale(0.835,1)" text-anchor="end" fill="#1f9a55" stroke="#1f9a55" stroke-width="0.32" font-size="12.6" font-weight="normal" font-style="normal">3,7%</text>
<text transform="translate(437.80,269.60) scale(0.835,1)" text-anchor="end" fill="#1f9a55" stroke="#1f9a55" stroke-width="0.32" font-size="12.6" font-weight="normal" font-style="normal">11,0%</text>
<text transform="translate(505.40,269.60) scale(0.835,1)" text-anchor="end" fill="#1f9a55" stroke="#1f9a55" stroke-width="0.32" font-size="12.6" font-weight="normal" font-style="normal">7,3%</text>
<text transform="translate(561.00,269.60) scale(0.835,1)" text-anchor="end" fill="#c9303b" stroke="#c9303b" stroke-width="0.32" font-size="12.6" font-weight="normal" font-style="normal">-0,5%</text>
<text transform="translate(617.60,269.60) scale(0.835,1)" text-anchor="end" fill="#1f9a55" stroke="#1f9a55" stroke-width="0.32" font-size="12.6" font-weight="normal" font-style="normal">10,9%</text>
<text transform="translate(661.40,269.60) scale(0.835,1)" text-anchor="end" fill="#111" stroke="#111" stroke-width="0.32" font-size="12.6" font-weight="normal" font-style="normal">22,3</text>
<text transform="translate(706.00,269.60) scale(0.835,1)" text-anchor="end" fill="#111" stroke="#111" stroke-width="0.32" font-size="12.6" font-weight="normal" font-style="normal">13,1</text>
<text transform="translate(750.00,269.60) scale(0.835,1)" text-anchor="end" fill="#111" stroke="#111" stroke-width="0.32" font-size="12.6" font-weight="normal" font-style="normal">12,2</text>
<text transform="translate(799.40,269.60) scale(0.835,1)" text-anchor="end" fill="#111" stroke="#111" stroke-width="0.32" font-size="12.6" font-weight="normal" font-style="normal">10,8</text>
<text transform="translate(844.80,269.60) scale(0.835,1)" text-anchor="end" fill="#111" stroke="#111" stroke-width="0.32" font-size="12.6" font-weight="normal" font-style="normal">2,5</text>
<text transform="translate(889.20,269.60) scale(0.835,1)" text-anchor="end" fill="#111" stroke="#111" stroke-width="0.32" font-size="12.6" font-weight="normal" font-style="normal">1,6</text>
<text transform="translate(933.40,269.60) scale(0.835,1)" text-anchor="end" fill="#111" stroke="#111" stroke-width="0.32" font-size="12.6" font-weight="normal" font-style="normal">1,3</text>
<text transform="translate(983.80,269.60) scale(0.835,1)" text-anchor="end" fill="#111" stroke="#111" stroke-width="0.32" font-size="12.6" font-weight="normal" font-style="normal">1,2</text>
<rect x="11" y="273.49" width="982.4" height="1.3" fill="#bdbdbd"/>
<text transform="translate(20.50,289.55) scale(0.835,1)" text-anchor="start" fill="#111" stroke="#111" stroke-width="0.32" font-size="12.6" font-weight="normal" font-style="normal">Dịch vụ tiện ích</text>
<text transform="translate(218.20,289.55) scale(0.835,1)" text-anchor="end" fill="#c9303b" stroke="#c9303b" stroke-width="0.32" font-size="12.6" font-weight="normal" font-style="normal">-4,5%</text>
<text transform="translate(272.00,289.55) scale(0.835,1)" text-anchor="end" fill="#1f9a55" stroke="#1f9a55" stroke-width="0.32" font-size="12.6" font-weight="normal" font-style="normal">11,9%</text>
<text transform="translate(326.00,289.55) scale(0.835,1)" text-anchor="end" fill="#c9303b" stroke="#c9303b" stroke-width="0.32" font-size="12.6" font-weight="normal" font-style="normal">-6,9%</text>
<text transform="translate(379.80,289.55) scale(0.835,1)" text-anchor="end" fill="#c9303b" stroke="#c9303b" stroke-width="0.32" font-size="12.6" font-weight="normal" font-style="normal">-14,6%</text>
<text transform="translate(437.80,289.55) scale(0.835,1)" text-anchor="end" fill="#c9303b" stroke="#c9303b" stroke-width="0.32" font-size="12.6" font-weight="normal" font-style="normal">-8,7%</text>
<text transform="translate(505.40,289.55) scale(0.835,1)" text-anchor="end" fill="#1f9a55" stroke="#1f9a55" stroke-width="0.32" font-size="12.6" font-weight="normal" font-style="normal">8,0%</text>
<text transform="translate(561.00,289.55) scale(0.835,1)" text-anchor="end" fill="#c9303b" stroke="#c9303b" stroke-width="0.32" font-size="12.6" font-weight="normal" font-style="normal">-45,1%</text>
<text transform="translate(617.60,289.55) scale(0.835,1)" text-anchor="end" fill="#c9303b" stroke="#c9303b" stroke-width="0.32" font-size="12.6" font-weight="normal" font-style="normal">-32,2%</text>
<text transform="translate(661.40,289.55) scale(0.835,1)" text-anchor="end" fill="#111" stroke="#111" stroke-width="0.32" font-size="12.6" font-weight="normal" font-style="normal">18,3</text>
<text transform="translate(706.00,289.55) scale(0.835,1)" text-anchor="end" fill="#111" stroke="#111" stroke-width="0.32" font-size="12.6" font-weight="normal" font-style="normal">11,7</text>
<text transform="translate(750.00,289.55) scale(0.835,1)" text-anchor="end" fill="#111" stroke="#111" stroke-width="0.32" font-size="12.6" font-weight="normal" font-style="normal">23,5</text>
<text transform="translate(799.40,289.55) scale(0.835,1)" text-anchor="end" fill="#111" stroke="#111" stroke-width="0.32" font-size="12.6" font-weight="normal" font-style="normal">35,5</text>
<text transform="translate(844.80,289.55) scale(0.835,1)" text-anchor="end" fill="#111" stroke="#111" stroke-width="0.32" font-size="12.6" font-weight="normal" font-style="normal">1,4</text>
<text transform="translate(889.20,289.55) scale(0.835,1)" text-anchor="end" fill="#111" stroke="#111" stroke-width="0.32" font-size="12.6" font-weight="normal" font-style="normal">0,9</text>
<text transform="translate(933.40,289.55) scale(0.835,1)" text-anchor="end" fill="#111" stroke="#111" stroke-width="0.32" font-size="12.6" font-weight="normal" font-style="normal">1,0</text>
<text transform="translate(983.80,289.55) scale(0.835,1)" text-anchor="end" fill="#111" stroke="#111" stroke-width="0.32" font-size="12.6" font-weight="normal" font-style="normal">1,0</text>
<rect x="12.00" y="293.70" width="981.00" height="20.30" fill="#dadada"/>
<rect x="11" y="293.65" width="982.4" height="1.3" fill="#b8b8b8"/>
<rect x="11" y="312.75" width="982.4" height="1.3" fill="#b8b8b8"/>
<text transform="translate(20.30,309.30) scale(0.7733,1)" text-anchor="start" fill="#111" stroke="#111" stroke-width="0.25" font-size="13.1" font-weight="bold" font-style="normal">Tổng/ Trung bình</text>
<text transform="translate(218.20,309.40) scale(0.825,1)" text-anchor="end" fill="#1f9a55" stroke="#1f9a55" stroke-width="0.25" font-size="13.1" font-weight="bold" font-style="normal">26,4%</text>
<text transform="translate(272.00,309.40) scale(0.825,1)" text-anchor="end" fill="#1f9a55" stroke="#1f9a55" stroke-width="0.25" font-size="13.1" font-weight="bold" font-style="normal">16,5%</text>
<text transform="translate(326.00,309.40) scale(0.825,1)" text-anchor="end" fill="#c9303b" stroke="#c9303b" stroke-width="0.25" font-size="13.1" font-weight="bold" font-style="normal">-1,3%</text>
<text transform="translate(379.80,309.40) scale(0.825,1)" text-anchor="end" fill="#1f9a55" stroke="#1f9a55" stroke-width="0.25" font-size="13.1" font-weight="bold" font-style="normal">5,0%</text>
<text transform="translate(437.80,309.40) scale(0.825,1)" text-anchor="end" fill="#1f9a55" stroke="#1f9a55" stroke-width="0.25" font-size="13.1" font-weight="bold" font-style="normal">41,1%</text>
<text transform="translate(505.40,309.40) scale(0.825,1)" text-anchor="end" fill="#1f9a55" stroke="#1f9a55" stroke-width="0.25" font-size="13.1" font-weight="bold" font-style="normal">12,3%</text>
<text transform="translate(561.00,309.40) scale(0.825,1)" text-anchor="end" fill="#c9303b" stroke="#c9303b" stroke-width="0.25" font-size="13.1" font-weight="bold" font-style="normal">-5,6%</text>
<text transform="translate(617.60,309.40) scale(0.825,1)" text-anchor="end" fill="#1f9a55" stroke="#1f9a55" stroke-width="0.25" font-size="13.1" font-weight="bold" font-style="normal">15,3%</text>
<text transform="translate(661.40,309.40) scale(0.825,1)" text-anchor="end" fill="#111" stroke="#111" stroke-width="0.25" font-size="13.1" font-weight="bold" font-style="normal">15,1</text>
<text transform="translate(706.00,309.40) scale(0.825,1)" text-anchor="end" fill="#111" stroke="#111" stroke-width="0.25" font-size="13.1" font-weight="bold" font-style="normal">10,1</text>
<text transform="translate(750.00,309.40) scale(0.825,1)" text-anchor="end" fill="#111" stroke="#111" stroke-width="0.25" font-size="13.1" font-weight="bold" font-style="normal">11,7</text>
<text transform="translate(799.40,309.40) scale(0.825,1)" text-anchor="end" fill="#111" stroke="#111" stroke-width="0.25" font-size="13.1" font-weight="bold" font-style="normal">10,6</text>
<text transform="translate(844.80,309.40) scale(0.825,1)" text-anchor="end" fill="#111" stroke="#111" stroke-width="0.25" font-size="13.1" font-weight="bold" font-style="normal">2,5</text>
<text transform="translate(889.20,309.40) scale(0.825,1)" text-anchor="end" fill="#111" stroke="#111" stroke-width="0.25" font-size="13.1" font-weight="bold" font-style="normal">1,7</text>
<text transform="translate(933.40,309.40) scale(0.825,1)" text-anchor="end" fill="#111" stroke="#111" stroke-width="0.25" font-size="13.1" font-weight="bold" font-style="normal">1,6</text>
<text transform="translate(983.80,309.40) scale(0.825,1)" text-anchor="end" fill="#111" stroke="#111" stroke-width="0.25" font-size="13.1" font-weight="bold" font-style="normal">1,5</text>
<text transform="translate(20.50,327.50) scale(0.8266,1)" text-anchor="start" fill="#111" stroke="#111" stroke-width="0.32" font-size="12.6" font-weight="normal" font-style="normal">Tổng nếu không gồm</text>
<text transform="translate(20.50,342.50) scale(0.835,1)" text-anchor="start" fill="#111" stroke="#111" stroke-width="0.32" font-size="12.6" font-weight="normal" font-style="normal">ngành Tài chính</text>
<text transform="translate(218.20,335.90) scale(0.835,1)" text-anchor="end" fill="#1f9a55" stroke="#1f9a55" stroke-width="0.32" font-size="12.6" font-weight="normal" font-style="normal">26,4%</text>
<text transform="translate(272.00,335.90) scale(0.835,1)" text-anchor="end" fill="#1f9a55" stroke="#1f9a55" stroke-width="0.32" font-size="12.6" font-weight="normal" font-style="normal">16,5%</text>
<text transform="translate(326.00,335.90) scale(0.835,1)" text-anchor="end" fill="#c9303b" stroke="#c9303b" stroke-width="0.32" font-size="12.6" font-weight="normal" font-style="normal">-1,3%</text>
<text transform="translate(379.80,335.90) scale(0.835,1)" text-anchor="end" fill="#1f9a55" stroke="#1f9a55" stroke-width="0.32" font-size="12.6" font-weight="normal" font-style="normal">5,0%</text>
<text transform="translate(437.80,335.90) scale(0.835,1)" text-anchor="end" fill="#1f9a55" stroke="#1f9a55" stroke-width="0.32" font-size="12.6" font-weight="normal" font-style="normal">49,2%</text>
<text transform="translate(505.40,335.90) scale(0.835,1)" text-anchor="end" fill="#c9303b" stroke="#c9303b" stroke-width="0.32" font-size="12.6" font-weight="normal" font-style="normal">-1,4%</text>
<text transform="translate(561.00,335.90) scale(0.835,1)" text-anchor="end" fill="#c9303b" stroke="#c9303b" stroke-width="0.32" font-size="12.6" font-weight="normal" font-style="normal">-17,1%</text>
<text transform="translate(617.60,335.90) scale(0.835,1)" text-anchor="end" fill="#1f9a55" stroke="#1f9a55" stroke-width="0.32" font-size="12.6" font-weight="normal" font-style="normal">14,5%</text>
<text transform="translate(661.40,335.90) scale(0.835,1)" text-anchor="end" fill="#111" stroke="#111" stroke-width="0.32" font-size="12.6" font-weight="normal" font-style="normal">17,0</text>
<text transform="translate(706.00,335.90) scale(0.835,1)" text-anchor="end" fill="#111" stroke="#111" stroke-width="0.32" font-size="12.6" font-weight="normal" font-style="normal">12,7</text>
<text transform="translate(750.00,335.90) scale(0.835,1)" text-anchor="end" fill="#111" stroke="#111" stroke-width="0.32" font-size="12.6" font-weight="normal" font-style="normal">15,4</text>
<text transform="translate(799.40,335.90) scale(0.835,1)" text-anchor="end" fill="#111" stroke="#111" stroke-width="0.32" font-size="12.6" font-weight="normal" font-style="normal">13,5</text>
<text transform="translate(844.80,335.90) scale(0.835,1)" text-anchor="end" fill="#111" stroke="#111" stroke-width="0.32" font-size="12.6" font-weight="normal" font-style="normal">2,8</text>
<text transform="translate(889.20,335.90) scale(0.835,1)" text-anchor="end" fill="#111" stroke="#111" stroke-width="0.32" font-size="12.6" font-weight="normal" font-style="normal">1,9</text>
<text transform="translate(933.40,335.90) scale(0.835,1)" text-anchor="end" fill="#111" stroke="#111" stroke-width="0.32" font-size="12.6" font-weight="normal" font-style="normal">1,8</text>
<text transform="translate(983.80,335.90) scale(0.835,1)" text-anchor="end" fill="#111" stroke="#111" stroke-width="0.32" font-size="12.6" font-weight="normal" font-style="normal">1,7</text>
<rect x="11" y="346.35" width="982.4" height="1.3" fill="#bdbdbd"/>
<text transform="translate(20.50,361.30) scale(0.835,1)" text-anchor="start" fill="#111" stroke="#111" stroke-width="0.32" font-size="12.6" font-weight="normal" font-style="normal">VN30 (trong phạm vi</text>
<text transform="translate(20.50,376.30) scale(0.82,1)" text-anchor="start" fill="#111" stroke="#111" stroke-width="0.32" font-size="12.6" font-weight="normal" font-style="normal">nghiên cứu của SSI)</text>
<text transform="translate(218.20,369.20) scale(0.835,1)" text-anchor="end" fill="#1f9a55" stroke="#1f9a55" stroke-width="0.32" font-size="12.6" font-weight="normal" font-style="normal">21,3%</text>
<text transform="translate(272.00,369.20) scale(0.835,1)" text-anchor="end" fill="#1f9a55" stroke="#1f9a55" stroke-width="0.32" font-size="12.6" font-weight="normal" font-style="normal">12,3%</text>
<text transform="translate(326.00,369.20) scale(0.835,1)" text-anchor="end" fill="#1f9a55" stroke="#1f9a55" stroke-width="0.32" font-size="12.6" font-weight="normal" font-style="normal">3,0%</text>
<text transform="translate(379.80,369.20) scale(0.835,1)" text-anchor="end" fill="#1f9a55" stroke="#1f9a55" stroke-width="0.32" font-size="12.6" font-weight="normal" font-style="normal">5,5%</text>
<text transform="translate(437.80,369.20) scale(0.835,1)" text-anchor="end" fill="#1f9a55" stroke="#1f9a55" stroke-width="0.32" font-size="12.6" font-weight="normal" font-style="normal">32,8%</text>
<text transform="translate(505.40,369.20) scale(0.835,1)" text-anchor="end" fill="#1f9a55" stroke="#1f9a55" stroke-width="0.32" font-size="12.6" font-weight="normal" font-style="normal">7,8%</text>
<text transform="translate(561.00,369.20) scale(0.835,1)" text-anchor="end" fill="#c9303b" stroke="#c9303b" stroke-width="0.32" font-size="12.6" font-weight="normal" font-style="normal">-1,0%</text>
<text transform="translate(617.60,369.20) scale(0.835,1)" text-anchor="end" fill="#1f9a55" stroke="#1f9a55" stroke-width="0.32" font-size="12.6" font-weight="normal" font-style="normal">16,2%</text>
<text transform="translate(661.40,369.20) scale(0.835,1)" text-anchor="end" fill="#111" stroke="#111" stroke-width="0.32" font-size="12.6" font-weight="normal" font-style="normal">14,9</text>
<text transform="translate(706.00,369.20) scale(0.835,1)" text-anchor="end" fill="#111" stroke="#111" stroke-width="0.32" font-size="12.6" font-weight="normal" font-style="normal">10,5</text>
<text transform="translate(750.00,369.20) scale(0.835,1)" text-anchor="end" fill="#111" stroke="#111" stroke-width="0.32" font-size="12.6" font-weight="normal" font-style="normal">11,4</text>
<text transform="translate(799.40,369.20) scale(0.835,1)" text-anchor="end" fill="#111" stroke="#111" stroke-width="0.32" font-size="12.6" font-weight="normal" font-style="normal">10,2</text>
<text transform="translate(844.80,369.20) scale(0.835,1)" text-anchor="end" fill="#111" stroke="#111" stroke-width="0.32" font-size="12.6" font-weight="normal" font-style="normal">2,6</text>
<text transform="translate(889.20,369.20) scale(0.835,1)" text-anchor="end" fill="#111" stroke="#111" stroke-width="0.32" font-size="12.6" font-weight="normal" font-style="normal">1,7</text>
<text transform="translate(933.40,369.20) scale(0.835,1)" text-anchor="end" fill="#111" stroke="#111" stroke-width="0.32" font-size="12.6" font-weight="normal" font-style="normal">1,6</text>
<text transform="translate(983.80,369.20) scale(0.835,1)" text-anchor="end" fill="#111" stroke="#111" stroke-width="0.32" font-size="12.6" font-weight="normal" font-style="normal">1,5</text>
<rect x="11" y="379.55" width="982.4" height="1.3" fill="#bdbdbd"/>
<text transform="translate(12.00,420.80) scale(0.8,1)" text-anchor="start" fill="#111" stroke="#111" stroke-width="0.5" font-size="18.5" font-weight="normal" font-style="italic">Nguồn: SSI Research</text>
</svg>
</body></html>
